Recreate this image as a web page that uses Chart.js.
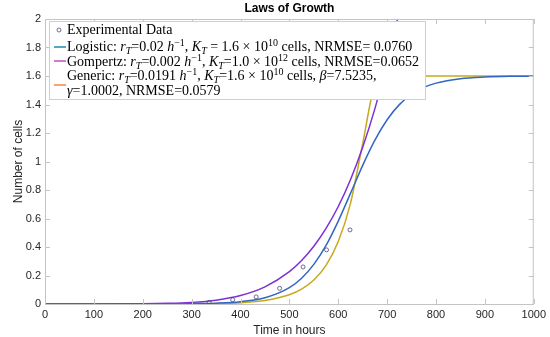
<!DOCTYPE html>
<html>
<head>
<meta charset="utf-8">
<title>Laws of Growth</title>
<script src="https://cdn.jsdelivr.net/npm/chart.js@4.4.1/dist/chart.umd.min.js"></script>
<style>
  html, body { margin: 0; padding: 0; background: #fff; }
  #wrap { width: 550px; height: 337px; position: relative; }
</style>
</head>
<body>
<div id="wrap"><canvas id="growthChart"></canvas></div>
<script>
// values, cells in units of 1e10
const hours = [0, 100, 200, 250, 300, 350, 400, 450, 500, 525, 550, 575, 600, 625, 650, 675, 700, 725, 750, 775, 800, 850, 900, 950, 1000];
const logisticCells = [0, 0, 0.0003, 0.0008, 0.0023, 0.0061, 0.0166, 0.044, 0.115, 0.181, 0.278, 0.411, 0.582, 0.776, 0.973, 1.15, 1.293, 1.399, 1.472, 1.52, 1.55, 1.581, 1.593, 1.598, 1.599];
// Gompertz leaves the axes above 2, so it stops at 750 h
const gompertzCells = [0, 0.0001, 0.0015, 0.0044, 0.0114, 0.027, 0.059, 0.12, 0.227, 0.305, 0.405, 0.53, 0.684, 0.872, 1.1, 1.371, 1.689, 2.061, 2.49];
const genericCells = [0, 0, 0.0002, 0.0005, 0.0014, 0.0037, 0.0096, 0.025, 0.065, 0.104, 0.168, 0.271, 0.438, 0.706, 1.126, 1.536, 1.598, 1.6, 1.6, 1.6, 1.6, 1.6, 1.6, 1.6, 1.6];
const expHours = [336, 384, 432, 480, 528, 576, 624];
const expCells = [0.012, 0.03, 0.05, 0.11, 0.26, 0.38, 0.52];

const lineColors = {
  logistic: '#3366c2',
  gompertz: '#7d2fd8',
  generic: '#c6aa1c',
  data: '#4a4a78',
};
// the legend swatches use other colours than the plotted lines
const legendColors = {
  logistic: '#1e8ab2',
  gompertz: '#c24fc6',
  generic: '#f48443',
};

const legendRows = [
  { marker: 'circle', y: 34, parts: [['n', 'Experimental Data']] },
  {
    color: legendColors.logistic, lineY: 47, y: 51,
    parts: [['n', 'Logistic: '], ['i', 'r'], ['b', 'T'], ['n', '=0.02 '], ['i', 'h'], ['p', '\u22121'], ['n', ', '],
      ['i', 'K'], ['b', 'T'], ['n', ' = 1.6 \u00d7 10'], ['p', '10'], ['n', ' cells, NRMSE= 0.0760']],
  },
  {
    color: legendColors.gompertz, lineY: 61, y: 66,
    parts: [['n', 'Gompertz: '], ['i', 'r'], ['b', 'T'], ['n', '=0.002 '], ['i', 'h'], ['p', '\u22121'], ['n', ', '],
      ['i', 'K'], ['b', 'T'], ['n', '=1.0 \u00d7 10'], ['p', '12'], ['n', ' cells, NRMSE=0.0652']],
  },
  {
    color: legendColors.generic, lineY: 85, y: 80,
    parts: [['n', 'Generic: '], ['i', 'r'], ['b', 'T'], ['n', '=0.0191 '], ['i', 'h'], ['p', '\u22121'], ['n', ', '],
      ['i', 'K'], ['b', 'T'], ['n', '=1.6 \u00d7 10'], ['p', '10'], ['n', ' cells, '], ['i', '\u03b2'], ['n', '=7.5235,']],
  },
  { y: 94.5, parts: [['i', '\u03b3'], ['n', '=1.0002, NRMSE=0.0579']] },
];

const SERIF = '"Liberation Serif", "Times New Roman", serif';
const SANS = '"Liberation Sans", Arial, Helvetica, sans-serif';
const AXIS_GRAY = '#c4c4c4';
const LEGEND_TEXT_X = 67;

function toPoints(xs, ys) {
  return ys.map((y, i) => ({ x: xs[i], y }));
}

function partFont(kind) {
  if (kind === 'i') return { font: `italic 14px ${SERIF}`, dy: 0 };
  if (kind === 'b') return { font: `italic 10px ${SERIF}`, dy: 3 };
  if (kind === 'p') return { font: `10px ${SERIF}`, dy: -5.5 };
  return { font: `14px ${SERIF}`, dy: 0 };
}

// draws one legend row, returns its right edge
function drawRich(ctx, parts, x, y, measureOnly) {
  let cx = x;
  parts.forEach(([kind, text]) => {
    const { font, dy } = partFont(kind);
    ctx.font = font;
    if (!measureOnly) ctx.fillText(text, cx, y + dy);
    cx += ctx.measureText(text).width;
  });
  return cx;
}

// MATLAB style box: inward ticks on all four sides
const boxTicksPlugin = {
  id: 'boxTicks',
  afterDatasetsDraw(chart) {
    const { ctx, chartArea: a, scales } = chart;
    ctx.save();
    ctx.strokeStyle = AXIS_GRAY;
    ctx.lineWidth = 1;
    ctx.beginPath();
    ctx.moveTo(a.left, a.top + 0.5);
    ctx.lineTo(a.right, a.top + 0.5);
    ctx.moveTo(a.right - 0.5, a.top);
    ctx.lineTo(a.right - 0.5, a.bottom);
    scales.x.ticks.forEach((t) => {
      const px = Math.round(scales.x.getPixelForValue(t.value)) + 0.5;
      ctx.moveTo(px, a.bottom);
      ctx.lineTo(px, a.bottom - 5);
      ctx.moveTo(px, a.top);
      ctx.lineTo(px, a.top + 5);
    });
    scales.y.ticks.forEach((t) => {
      const py = Math.round(scales.y.getPixelForValue(t.value)) + 0.5;
      ctx.moveTo(a.left, py);
      ctx.lineTo(a.left + 5, py);
      ctx.moveTo(a.right, py);
      ctx.lineTo(a.right - 5, py);
    });
    ctx.stroke();
    ctx.restore();
  },
  afterDraw(chart) {
    const { ctx, chartArea: a } = chart;
    ctx.save();
    ctx.fillStyle = '#000';
    ctx.font = `bold 12px ${SANS}`;
    ctx.textAlign = 'center';
    ctx.textBaseline = 'middle';
    ctx.fillText('Laws of Growth', (a.left + a.right) / 2, 9);
    ctx.restore();
  },
};

const mathLegendPlugin = {
  id: 'mathLegend',
  afterDraw(chart) {
    const { ctx } = chart;
    ctx.save();
    const widest = Math.max(...legendRows.map((row) => drawRich(ctx, row.parts, LEGEND_TEXT_X, row.y, true)));
    const boxRight = Math.round(widest + 6);
    ctx.fillStyle = '#fff';
    ctx.fillRect(49, 21, boxRight - 49, 78);
    ctx.strokeStyle = '#cfcfcf';
    ctx.lineWidth = 1;
    ctx.strokeRect(49.5, 21.5, boxRight - 49, 78);

    legendRows.forEach((row) => {
      if (row.marker === 'circle') {
        ctx.strokeStyle = lineColors.data;
        ctx.lineWidth = 0.8;
        ctx.beginPath();
        ctx.arc(59, 30, 2, 0, Math.PI * 2);
        ctx.stroke();
      }
      if (row.color) {
        ctx.strokeStyle = row.color;
        ctx.lineWidth = 1.5;
        ctx.beginPath();
        ctx.moveTo(54, row.lineY);
        ctx.lineTo(66, row.lineY);
        ctx.stroke();
      }
      ctx.fillStyle = '#000';
      ctx.textBaseline = 'alphabetic';
      drawRich(ctx, row.parts, LEGEND_TEXT_X, row.y, false);
    });
    ctx.restore();
  },
};

const lineStyle = {
  borderWidth: 1.5,
  pointRadius: 0,
  fill: false,
  cubicInterpolationMode: 'monotone',
};

new Chart(document.getElementById('growthChart'), {
  type: 'line',
  data: {
    datasets: [
      {
        label: 'Experimental Data',
        data: toPoints(expHours, expCells),
        showLine: false,
        pointStyle: 'circle',
        pointRadius: 2,
        pointBorderWidth: 0.8,
        pointBorderColor: lineColors.data,
        pointBackgroundColor: 'rgba(0,0,0,0)',
        borderColor: lineColors.data,
      },
      { ...lineStyle, label: 'Logistic', data: toPoints(hours, logisticCells), borderColor: lineColors.logistic },
      { ...lineStyle, label: 'Gompertz', data: toPoints(hours, gompertzCells), borderColor: lineColors.gompertz },
      { ...lineStyle, label: 'Generic', data: toPoints(hours, genericCells), borderColor: lineColors.generic },
    ],
  },
  options: {
    responsive: true,
    maintainAspectRatio: false,
    animation: false,
    devicePixelRatio: 1,
    layout: { padding: { top: 19, right: 15, left: 0, bottom: 0 } },
    plugins: {
      legend: { display: false },
      title: { display: false },
      tooltip: { enabled: false },
    },
    scales: {
      x: {
        type: 'linear',
        min: 0,
        max: 1000,
        afterFit(scale) { scale.height = 33; },
        grid: { display: false, drawTicks: false },
        border: { display: true, color: AXIS_GRAY },
        ticks: {
          stepSize: 100,
          padding: 4,
          color: '#262626',
          font: { family: SANS, size: 11 },
          maxRotation: 0,
          callback(value) { return String(value); },
        },
        title: {
          display: true,
          text: 'Time in hours',
          color: '#262626',
          font: { family: SANS, size: 12, lineHeight: 1 },
          padding: { top: 0, bottom: 0 },
        },
      },
      y: {
        min: 0,
        max: 2,
        afterFit(scale) { scale.width = 45; },
        grid: { display: false, drawTicks: false },
        border: { display: true, color: AXIS_GRAY },
        ticks: {
          stepSize: 0.2,
          padding: 4,
          color: '#262626',
          font: { family: SANS, size: 11 },
          callback(value) { return String(Number(value.toFixed(1))); },
        },
        title: {
          display: true,
          text: 'Number of cells',
          color: '#262626',
          font: { family: SANS, size: 12, lineHeight: 1.2 },
          padding: { top: 11, bottom: 0 },
        },
      },
    },
  },
  plugins: [boxTicksPlugin, mathLegendPlugin],
});
</script>
</body>
</html>
